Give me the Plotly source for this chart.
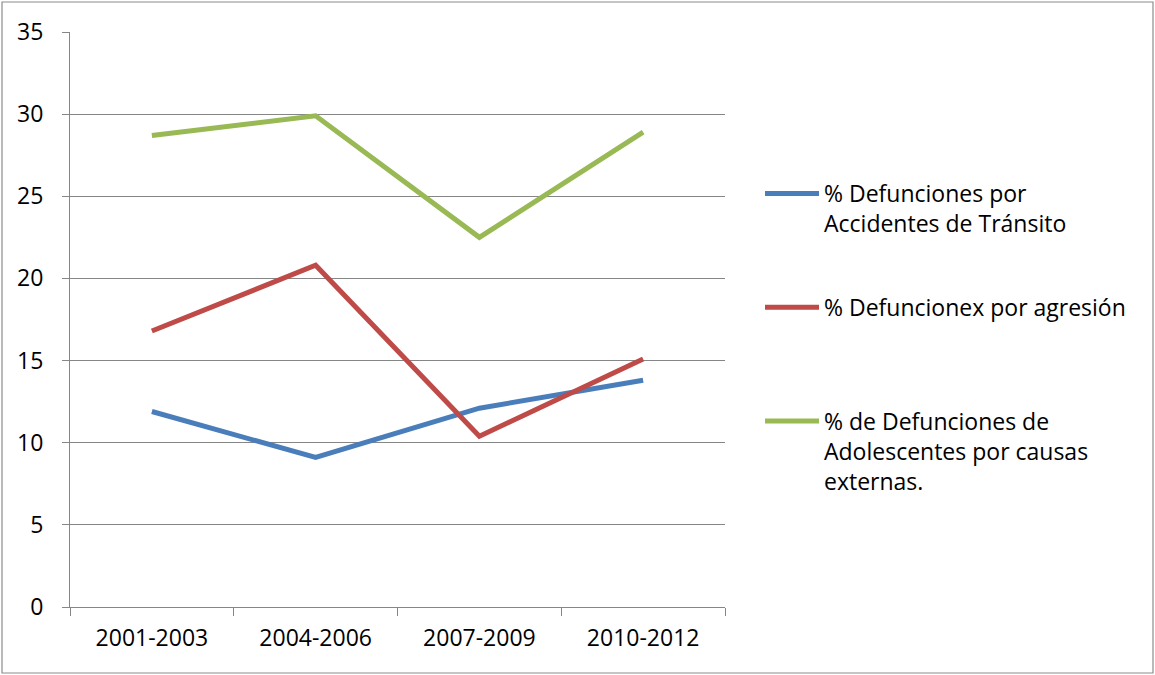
import plotly.graph_objects as go

periodos = ["2001-2003", "2004-2006", "2007-2009", "2010-2012"]
transito = [11.9, 9.1, 12.1, 13.8]
agresion = [16.8, 20.8, 10.4, 15.1]
externas = [28.7, 29.9, 22.5, 28.9]

nombres = [
    "% Defunciones por<br>Accidentes de Tránsito",
    "% Defuncionex por agresión<br> ",
    "% de Defunciones de<br>Adolescentes por causas<br>externas.",
]
colores = ["#4A7EBB", "#BE4B48", "#98B954"]
series = [transito, agresion, externas]

W, H = 1155, 675
ML, MR, MT, MB = 70, 430, 32, 68
FS = 23

fig = go.Figure()
for i, (nm, vals, col) in enumerate(zip(nombres, series, colores)):
    fig.add_trace(go.Scatter(
        x=periodos, y=vals, name=nm, mode="lines",
        line=dict(color=col, width=5),
        legendgroup=f"g{i}",
    ))

pw = W - ML - MR
ph = H - MT - MB
fig.add_shape(type="rect", xref="paper", yref="paper",
              x0=(2 - ML) / pw, x1=(1153 - ML) / pw,
              y0=(H - MB - 673) / ph, y1=(H - MB - 2) / ph,
              line=dict(color="#8C8C8C", width=1.2), layer="below")

fig.update_layout(
    width=W, height=H,
    margin=dict(l=ML, r=MR, t=MT, b=MB),
    paper_bgcolor="white", plot_bgcolor="white",
    font=dict(family="Open Sans", size=FS, color="black"),
    showlegend=True,
    legend=dict(
        x=(760 - ML) / pw, xanchor="left",
        y=(H - MB - 172) / ph, yanchor="top",
        font=dict(family="Open Sans", size=FS, color="black"),
        tracegroupgap=51, itemwidth=54, valign="top",
        bgcolor="rgba(0,0,0,0)",
    ),
    xaxis=dict(
        type="category", range=[-0.5, 3.5],
        showline=True, linecolor="#868686", linewidth=1.2,
        ticks="outside", tickson="boundaries", ticklen=8,
        tickcolor="#868686", tickwidth=1.2,
        showgrid=False, fixedrange=True,
        tickfont=dict(size=FS), ticklabelstandoff=10,
    ),
    yaxis=dict(
        range=[0, 35], dtick=5, tick0=0,
        showline=True, linecolor="#868686", linewidth=1.2,
        ticks="outside", ticklen=7, tickcolor="#868686", tickwidth=1.2,
        showgrid=True, gridcolor="#868686", gridwidth=1.2,
        zeroline=False, tickfont=dict(size=FS), ticklabelstandoff=14,
    ),
)

fig.write_html("out.html", config={"displayModeBar": False},
               post_script="document.body.style.margin='0';")
